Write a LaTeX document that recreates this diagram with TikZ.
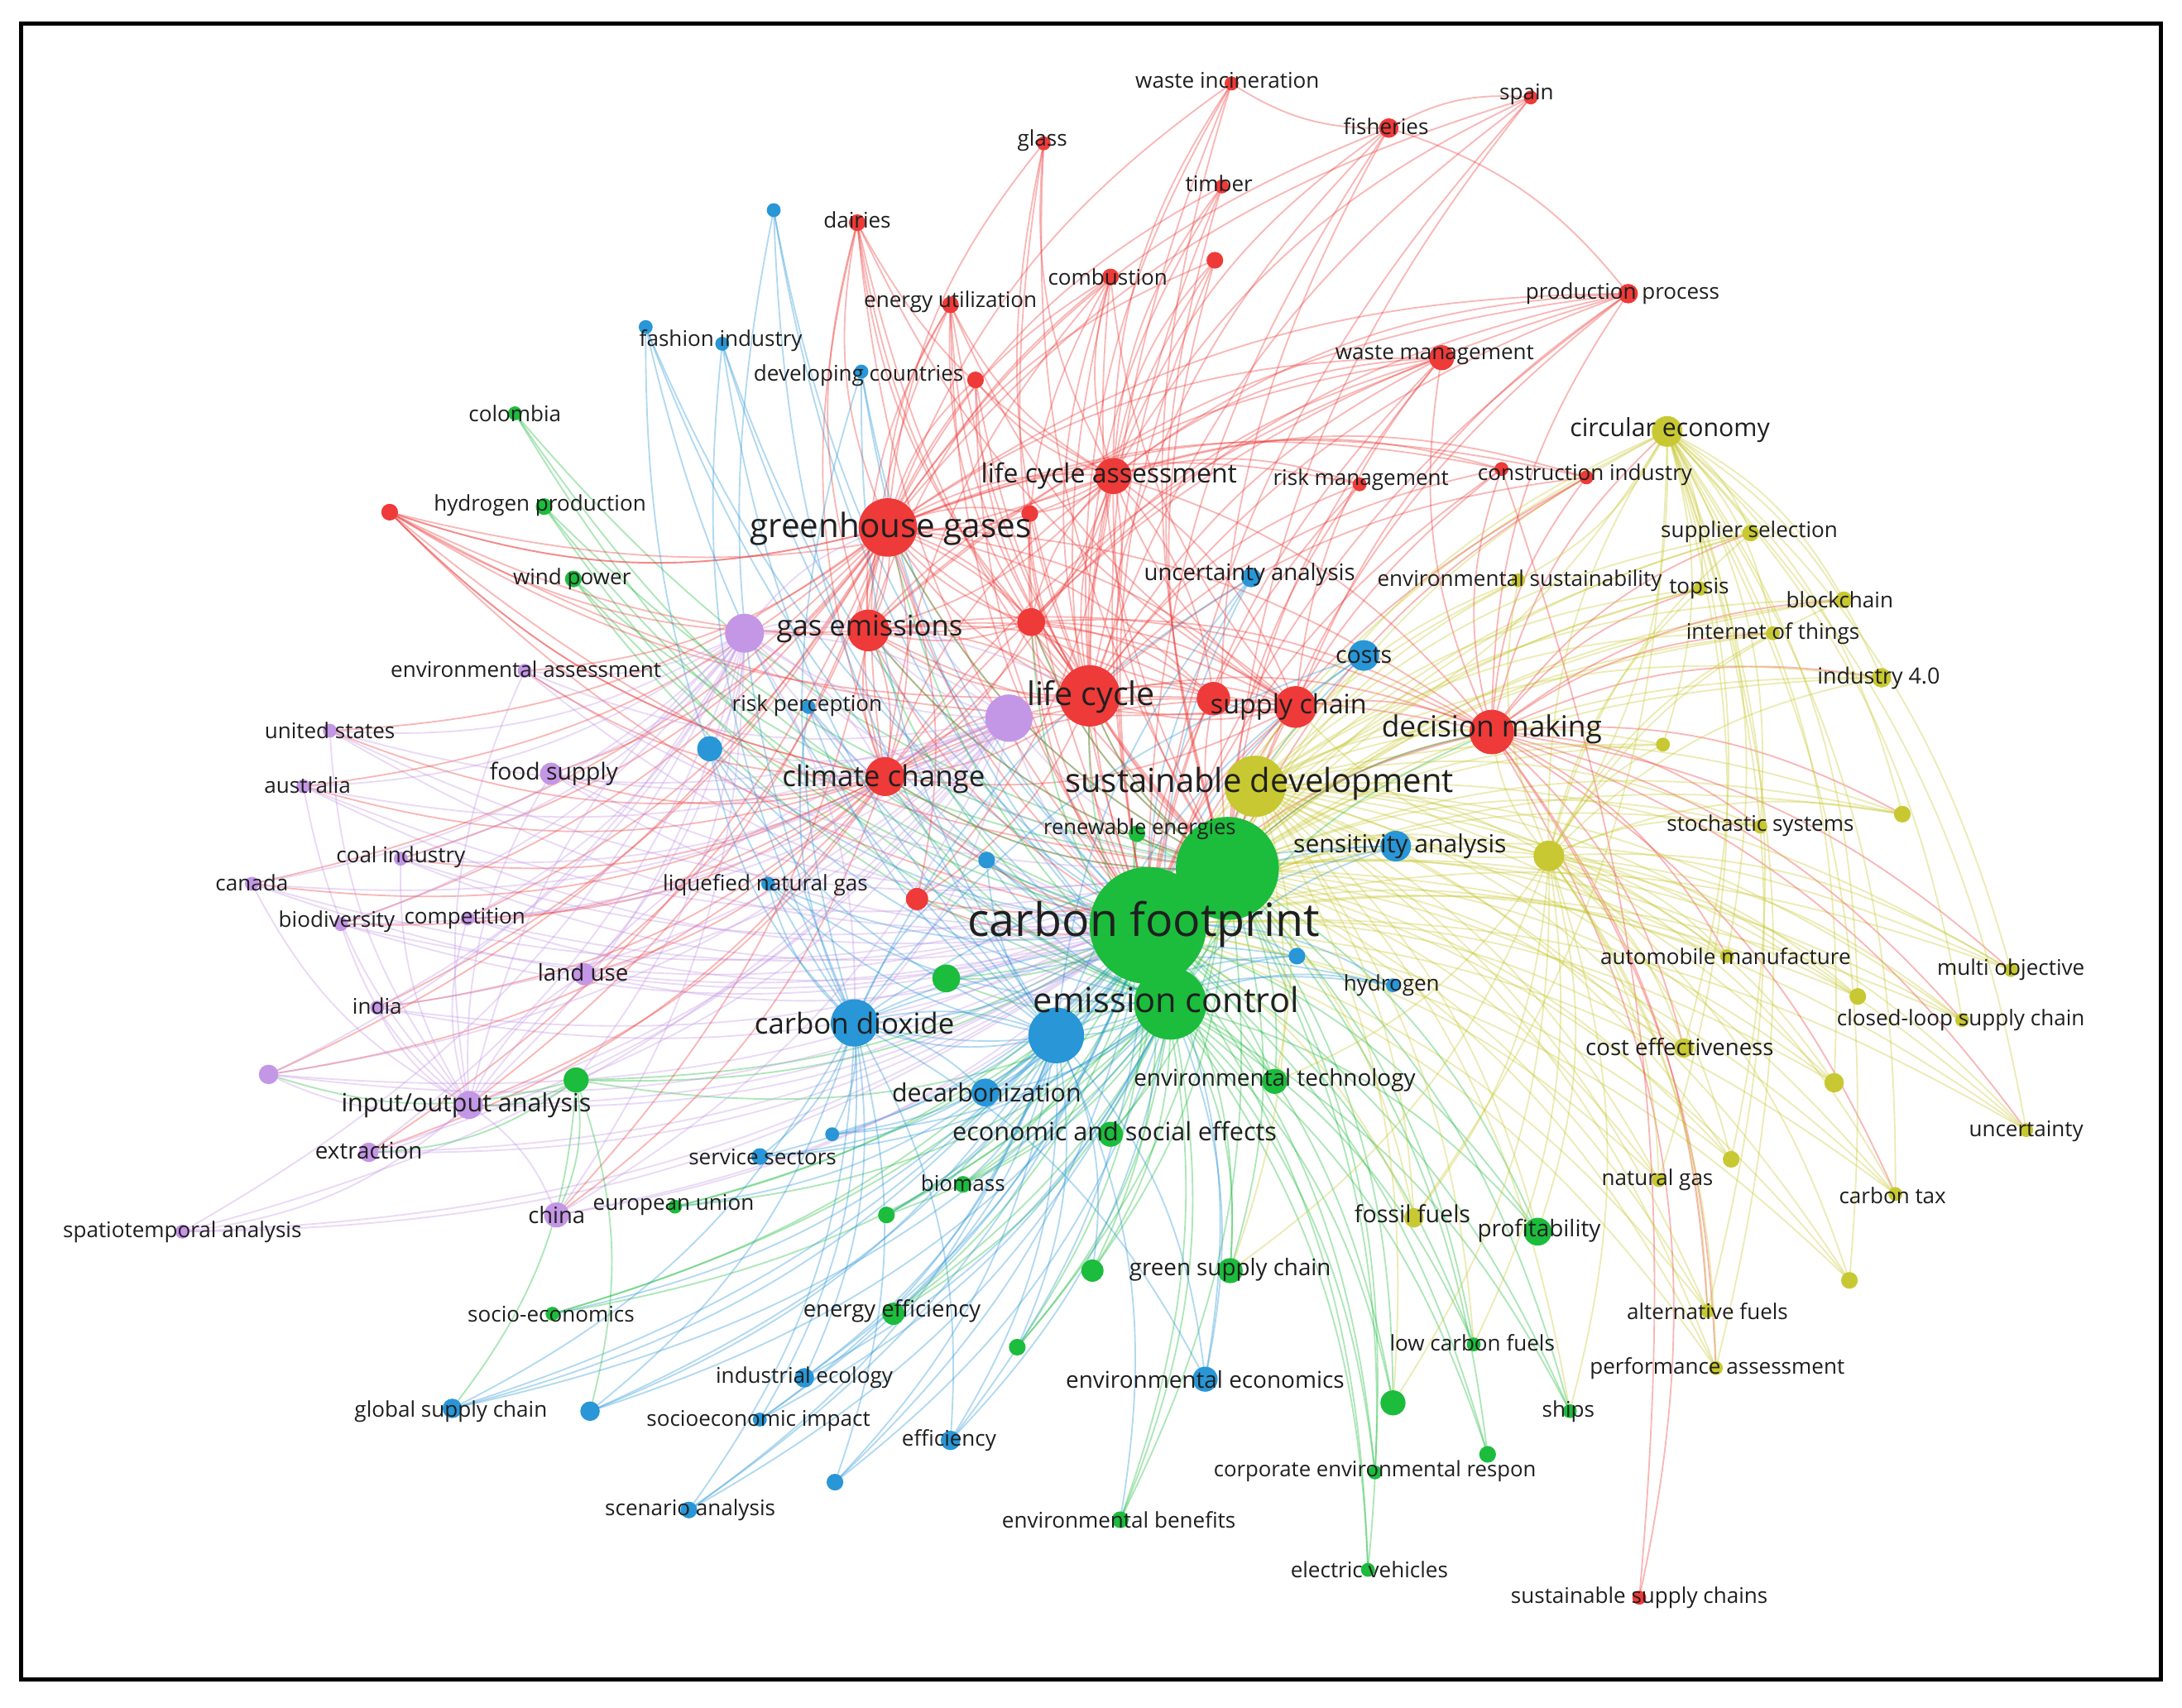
\documentclass[tikz,border=0pt]{standalone}
\usepackage{fontspec}
\setmainfont{Open Sans}
\usetikzlibrary{backgrounds}
\definecolor{cred}{RGB}{238,58,56}
\definecolor{cgrn}{RGB}{28,188,60}
\definecolor{cblu}{RGB}{40,150,215}
\definecolor{cyel}{RGB}{200,200,50}
\definecolor{cpur}{RGB}{196,150,230}
\tikzset{
  vnode/.style={circle,inner sep=0pt,outer sep=0pt,draw=none},
  lbl/.style={inner sep=0pt,outer sep=0pt,text=black!88,anchor=center},
  edge/.style={line width=1.1pt,draw opacity=0.36},
  eR/.style={edge,draw=cred},
  eG/.style={edge,draw=cgrn},
  eB/.style={edge,draw=cblu},
  eY/.style={edge,draw=cyel},
  eP/.style={edge,draw=cpur},
  frame/.style={draw=black,line width=3pt}
}
\newcommand\vn[5]{\node[vnode,fill=#5,minimum size=#4*2pt] (#1) at (#2,#3) {};}
\newcommand\vl[5]{\node[lbl,font=\fontsize{#4pt}{#4pt}\selectfont] (#1) at (#2,#3) {#5};}
\newcommand\edges[3]{\foreach \s in {#1}{\foreach \t in #2{\ifx\s\t\else\draw[#3] (\s.center) to[bend left=17] (\t.center);\fi}}}
\def\REDS{rwi,rsp,rfi,rgl,rti,rda,rx1,rco,reu,rpp,rx2,rwm,rlca,rrm,rci1,rci2,rx3,rgg,rx4,rx5,rge,rlc,rx6,rsc,rdm,rcc,rx7}
\def\YELS{yce,yss,yes,yto,ybc,yit,yi4,ysd,yx1,yst,yx2,yx3,yam,ymo,yx4,ycl,ycef,yx5,yun,yx6,yng,yct,yx7,yaf,ypa,yff}
\def\GRNS{gbig,gec,gre,gco,ghp,gwp,gx1,gx2,get,gese,gbi,gx3,geun,gx4,ggsc,gse,gee,gx5,gpr,glcf,gx6,gsh,gx7,gcer,geb,gev}
\def\BLUS{bcd,bbig,bsa,bcosts,bua,bh,bx1,bx2,blng,bdec,bss,bx3,bx4,brp,bfi,bx5,bdc,bx6,bie,bx7,bgsc,bsi,bef,bx8,bsca,bee}
\def\PURS{px1,px2,pea,pus,pau,pfs,pci,pca,pbd,pco,plu,pin,px3,pio,pex,pch,pst}
\begin{document}
\begin{tikzpicture}[x=1pt,y=-1pt]
\useasboundingbox (0,0) rectangle (1568,1227);
% ---------- red cluster
\vn{rwi}{885}{60}{5}{cred}
\vn{rsp}{1100}{70}{5}{cred}
\vn{rfi}{998}{92}{7}{cred}
\vn{rgl}{750}{103}{5}{cred}
\vn{rti}{878}{134}{5}{cred}
\vn{rda}{616}{160}{6}{cred}
\vn{rx1}{873}{187}{6}{cred}
\vn{rco}{798}{199}{6}{cred}
\vn{reu}{683}{219}{6}{cred}
\vn{rpp}{1170}{211}{7}{cred}
\vn{rx2}{701}{273}{6}{cred}
\vn{rwm}{1036}{257}{9}{cred}
\vn{rlca}{800}{342}{13}{cred}
\vn{rrm}{977}{348}{5}{cred}
\vn{rci1}{1079}{337}{5}{cred}
\vn{rci2}{1140}{343}{5}{cred}
\vn{rx3}{280}{368}{6}{cred}
\vn{rgg}{638}{379}{21}{cred}
\vn{rx4}{740}{369}{6}{cred}
\vn{rx5}{741}{447}{10}{cred}
\vn{rge}{624}{453}{15}{cred}
\vn{rlc}{783}{500}{22}{cred}
\vn{rx6}{872}{502}{12}{cred}
\vn{rsc}{931}{508}{15}{cred}
\vn{rdm}{1072}{526}{16}{cred}
\vn{rcc}{636}{558}{14}{cred}
\vn{rx7}{659}{646}{8}{cred}
\vn{rssc}{1178}{1148}{5}{cred}
% ---------- yellow cluster
\vn{yce}{1198}{310}{11}{cyel}
\vn{yss}{1258}{383}{6}{cyel}
\vn{yes}{1091}{417}{5}{cyel}
\vn{yto}{1222}{423}{5}{cyel}
\vn{ybc}{1325}{431}{6}{cyel}
\vn{yit}{1274}{455}{5}{cyel}
\vn{yi4}{1352}{487}{7}{cyel}
\vn{ysd}{902}{565}{22}{cyel}
\vn{yx1}{1195}{535}{5}{cyel}
\vn{yst}{1265}{594}{5}{cyel}
\vn{yx2}{1367}{585}{6}{cyel}
\vn{yx3}{1113}{615}{11}{cyel}
\vn{yam}{1241}{687}{5}{cyel}
\vn{ymo}{1445}{697}{5}{cyel}
\vn{yx4}{1335}{716}{6}{cyel}
\vn{ycl}{1410}{733}{5}{cyel}
\vn{ycef}{1210}{753}{7}{cyel}
\vn{yx5}{1318}{778}{7}{cyel}
\vn{yun}{1456}{812}{5}{cyel}
\vn{yx6}{1244}{833}{6}{cyel}
\vn{yng}{1192}{848}{5}{cyel}
\vn{yct}{1362}{858}{5}{cyel}
\vn{yx7}{1329}{920}{6}{cyel}
\vn{yaf}{1227}{942}{5}{cyel}
\vn{ypa}{1233}{983}{5}{cyel}
\vn{yff}{1016}{875}{7}{cyel}
% ---------- green cluster
\vn{gbig}{882}{624}{37}{cgrn}
\vn{gec}{841}{721}{26}{cgrn}
\vn{gcf}{825}{665}{42}{cgrn}
\vn{gre}{817}{599}{6}{cgrn}
\vn{gco}{370}{297}{5}{cgrn}
\vn{ghp}{391}{364}{6}{cgrn}
\vn{gwp}{412}{416}{6}{cgrn}
\vn{gx1}{680}{703}{10}{cgrn}
\vn{gx2}{414}{776}{9}{cgrn}
\vn{get}{916}{777}{9}{cgrn}
\vn{gese}{798}{815}{9}{cgrn}
\vn{gbi}{692}{851}{6}{cgrn}
\vn{gx3}{637}{873}{6}{cgrn}
\vn{geun}{485}{867}{5}{cgrn}
\vn{gx4}{785}{913}{8}{cgrn}
\vn{ggsc}{884}{913}{9}{cgrn}
\vn{gse}{397}{944}{5}{cgrn}
\vn{gee}{642}{944}{8}{cgrn}
\vn{gx5}{731}{968}{6}{cgrn}
\vn{gpr}{1105}{885}{10}{cgrn}
\vn{glcf}{1059}{966}{5}{cgrn}
\vn{gx6}{1001}{1008}{9}{cgrn}
\vn{gsh}{1128}{1014}{5}{cgrn}
\vn{gx7}{1069}{1045}{6}{cgrn}
\vn{gcer}{988}{1058}{5}{cgrn}
\vn{geb}{805}{1092}{6}{cgrn}
\vn{gev}{983}{1128}{5}{cgrn}
% ---------- blue cluster
\vn{bcd}{614}{735}{17}{cblu}
\vn{bbig}{759}{744}{20}{cblu}
\vn{bsa}{1003}{608}{11}{cblu}
\vn{bcosts}{980}{471}{11}{cblu}
\vn{bua}{899}{415}{7}{cblu}
\vn{bh}{1001}{708}{5}{cblu}
\vn{bx1}{932}{687}{6}{cblu}
\vn{bx2}{709}{618}{6}{cblu}
\vn{blng}{552}{635}{5}{cblu}
\vn{bdec}{708}{785}{10}{cblu}
\vn{bss}{546}{831}{6}{cblu}
\vn{bx3}{598}{815}{5}{cblu}
\vn{bx4}{510}{538}{9}{cblu}
\vn{brp}{581}{508}{5}{cblu}
\vn{bfi}{519}{247}{5}{cblu}
\vn{bx5}{464}{235}{5}{cblu}
\vn{bdc}{619}{267}{5}{cblu}
\vn{bx6}{556}{151}{5}{cblu}
\vn{bie}{578}{990}{7}{cblu}
\vn{bx7}{424}{1014}{7}{cblu}
\vn{bgsc}{325}{1012}{7}{cblu}
\vn{bsi}{546}{1020}{5}{cblu}
\vn{bef}{683}{1035}{7}{cblu}
\vn{bx8}{600}{1065}{6}{cblu}
\vn{bsca}{495}{1085}{6}{cblu}
\vn{bee}{866}{991}{9}{cblu}
% ---------- purple cluster
\vn{px1}{535}{455}{14}{cpur}
\vn{px2}{725}{516}{17}{cpur}
\vn{pea}{377}{482}{5}{cpur}
\vn{pus}{237}{525}{5}{cpur}
\vn{pau}{218}{565}{5}{cpur}
\vn{pfs}{396}{556}{8}{cpur}
\vn{pci}{288}{617}{5}{cpur}
\vn{pca}{181}{635}{5}{cpur}
\vn{pbd}{245}{664}{5}{cpur}
\vn{pco}{336}{660}{5}{cpur}
\vn{plu}{420}{700}{8}{cpur}
\vn{pin}{271}{724}{5}{cpur}
\vn{px3}{193}{772}{7}{cpur}
\vn{pio}{337}{794}{10}{cpur}
\vn{pex}{265}{828}{7}{cpur}
\vn{pch}{400}{873}{9}{cpur}
\vn{pst}{131}{885}{5}{cpur}
% ---------- connectors (behind the nodes)
\begin{scope}[on background layer]
\fill[white] (0,0) rectangle (1568,1227);
\edges{gcf,gbig,gec}{\GRNS}{eG}
\edges{gcf,gbig}{\YELS}{eY}
\edges{gcf,gec}{\BLUS}{eB}
\edges{gcf,gbig}{\PURS}{eP}
\edges{gcf,gbig}{\REDS}{eR}
\edges{rgg,rlc,rlca}{\REDS}{eR}
\edges{rge,rcc,rsc,rx5}{{rgg,rlc,rlca,rwm,rpp,rda,reu,rco,rx3,rdm,rx6,rsc,rcc,rge}}{eR}
\edges{rdm}{{yce,yss,yto,ybc,yit,yi4,yst,yx2,yam,ymo,ycl,ycef,yun,yct,yaf,ypa,rpp,rwm,rci1,rci2}}{eR}
\edges{rgg,rcc}{{pea,pus,pau,pfs,pci,pca,pbd,pco,plu,pin,px3,pio,pex,pch,rx3}}{eR}
\edges{rfi}{{rsp,rpp,rwi}}{eR}
\draw[eR] (rssc.center) to[bend right=22] (rdm.center);
\draw[eR] (rssc.center) to[bend right=12] (rci1.center);
\edges{ysd,yce,yx3}{\YELS}{eY}
\edges{ysd,yx3}{{gpr,glcf,gx6,gsh,ggsc,get,rdm,rsc}}{eY}
\edges{bcd,bbig}{\BLUS}{eB}
\edges{bbig}{{gee,gx5,geb,gx4,gx3,gbi,gse,geun}}{eB}
\edges{px1,px2,pio}{\PURS}{eP}
\edges{px1,px2}{{rgg,rge,rcc,rlc,bcd,bx4,gx2}}{eP}
\edges{gec,gbig}{{rge,rcc,rgg,rlc,rx5,rdm}}{eG}
\edges{gx2}{{pio,pch,px3,pex,bgsc,bx7}}{eG}
\end{scope}
% ---------- labels
\vl{Lrwi}{882}{58}{15.5}{waste incineration}
\vl{Lrsp}{1097}{68}{15.5}{spain}
\vl{Lrfi}{996}{91}{15.5}{fisheries}
\vl{Lrgl}{749}{101}{15.5}{glass}
\vl{Lrti}{876}{132}{15.5}{timber}
\vl{Lrda}{616}{158}{15.5}{dairies}
\vl{Lrco}{796}{199}{15.5}{combustion}
\vl{Lreu}{683}{217}{15.5}{energy utilization}
\vl{Lrpp}{1166}{211}{15.5}{production process}
\vl{Lrwm}{1031}{255}{15.5}{waste management}
\vl{Lbdc}{617}{270}{15.5}{developing countries}
\vl{Lbfi}{518}{245}{15.5}{fashion industry}
\vl{Lgco}{370}{297}{15.5}{colombia}
\vl{Lyce}{1200}{309}{18}{circular economy}
\vl{Lrlca}{797}{342}{19}{life cycle assessment}
\vl{Lrrm}{978}{345}{15.5}{risk management}
\vl{Lrci}{1139}{341}{15.5}{construction industry}
\vl{Lghp}{388}{363}{15.5}{hydrogen production}
\vl{Lrgg}{640}{380}{24}{greenhouse gases}
\vl{Lyss}{1257}{382}{15.5}{supplier selection}
\vl{Lgwp}{411}{416}{15.5}{wind power}
\vl{Lbua}{898}{413}{16.4}{uncertainty analysis}
\vl{Lyes}{1092}{417}{15.5}{environmental sustainability}
\vl{Lyto}{1221}{423}{15.5}{topsis}
\vl{Lybc}{1322}{431}{15.5}{blockchain}
\vl{Lyit}{1274}{455}{15.5}{internet of things}
\vl{Lrge}{625}{452}{20.6}{gas emissions}
\vl{Lbcosts}{980}{471}{17}{costs}
\vl{Lpea}{378}{481}{15.5}{environmental assessment}
\vl{Lyi4}{1350}{487}{16}{industry 4.0}
\vl{Lrlc}{784}{501}{23.4}{life cycle}
\vl{Lbrp}{580}{507}{15.5}{risk perception}
\vl{Lrsc}{926}{508}{19.2}{supply chain}
\vl{Lrdm}{1072}{524}{21}{decision making}
\vl{Lpus}{237}{525}{15.5}{united states}
\vl{Lpfs}{398}{556}{16.8}{food supply}
\vl{Lrcc}{635}{560}{20.8}{climate change}
\vl{Lysd}{905}{563}{23.8}{sustainable development}
\vl{Lpau}{221}{564}{15.5}{australia}
\vl{Lyst}{1265}{593}{15.5}{stochastic systems}
\vl{Lgre}{819}{596}{15.2}{renewable energies}
\vl{Lbsa}{1006}{608}{17.9}{sensitivity analysis}
\vl{Lpci}{288}{616}{15.5}{coal industry}
\vl{Lpca}{181}{634}{15.5}{canada}
\vl{Lblng}{550}{636}{15.5}{liquefied natural gas}
\vl{Lpbd}{242}{662}{15.5}{biodiversity}
\vl{Lpco}{334}{660}{15.5}{competition}
\vl{Lgcf}{822}{664}{33}{carbon footprint}
\vl{Lyam}{1240}{687}{15.5}{automobile manufacture}
\vl{Lymo}{1445}{697}{15.5}{multi objective}
\vl{Lplu}{419}{699}{16.5}{land use}
\vl{Lbh}{1000}{708}{15.5}{hydrogen}
\vl{Lgec}{838}{718}{24.7}{emission control}
\vl{Lpin}{271}{723}{15.5}{india}
\vl{Lycl}{1409}{733}{15.5}{closed-loop supply chain}
\vl{Lbcd}{614}{735}{20.7}{carbon dioxide}
\vl{Lycef}{1207}{752}{16.4}{cost effectiveness}
\vl{Lget}{916}{776}{16.6}{environmental technology}
\vl{Lbdec}{709}{785}{18}{decarbonization}
\vl{Lpio}{335}{794}{18.1}{input/output analysis}
\vl{Lyun}{1456}{813}{15.5}{uncertainty}
\vl{Lgese}{801}{813}{18.2}{economic and social effects}
\vl{Lpex}{265}{827}{16.5}{extraction}
\vl{Lbss}{548}{831}{15.5}{service sectors}
\vl{Lyng}{1191}{848}{15.5}{natural gas}
\vl{Lgbi}{692}{850}{15.5}{biomass}
\vl{Lyct}{1360}{859}{15.5}{carbon tax}
\vl{Lgeun}{484}{866}{15.5}{european union}
\vl{Lpch}{400}{873}{16.3}{china}
\vl{Lyff}{1015}{872}{17}{fossil fuels}
\vl{Lgpr}{1106}{884}{16.6}{profitability}
\vl{Lpst}{131}{885}{15.5}{spatiotemporal analysis}
\vl{Lggsc}{884}{912}{16.5}{green supply chain}
\vl{Lyaf}{1227}{942}{15.5}{alternative fuels}
\vl{Lgse}{396}{944}{15.5}{socio-economics}
\vl{Lgee}{641}{942}{16.3}{energy efficiency}
\vl{Lglcf}{1058}{965}{15.5}{low carbon fuels}
\vl{Lypa}{1234}{983}{15.5}{performance assessment}
\vl{Lbie}{578}{990}{15.5}{industrial ecology}
\vl{Lbee}{866}{991}{16.6}{environmental economics}
\vl{Lgsh}{1127}{1014}{15.5}{ships}
\vl{Lbgsc}{324}{1014}{15.5}{global supply chain}
\vl{Lbsi}{545}{1021}{15.5}{socioeconomic impact}
\vl{Lbef}{682}{1035}{15.5}{efficiency}
\vl{Lgcer}{988}{1057}{15.3}{corporate environmental respon}
\vl{Lbsca}{496}{1085}{15.5}{scenario analysis}
\vl{Lgeb}{804}{1092}{15.5}{environmental benefits}
\vl{Lgev}{984}{1128}{15.5}{electric vehicles}
\vl{Lrssc}{1178}{1148}{15.5}{sustainable supply chains}
% ---------- frame
\draw[frame] (15,17) rectangle (1553,1207);
\end{tikzpicture}
\end{document}
